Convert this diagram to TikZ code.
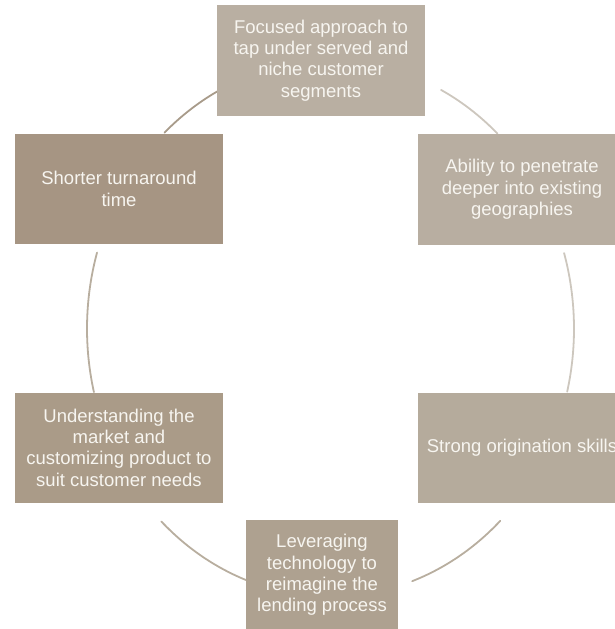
\documentclass[tikz,border=0pt]{standalone}
\usepackage{fontspec}
\setmainfont{Liberation Sans}
\definecolor{cA}{HTML}{B9AFA2}
\definecolor{cB}{HTML}{A69583}
\definecolor{cC}{HTML}{B8AEA1}
\definecolor{cD}{HTML}{AA9B88}
\definecolor{cE}{HTML}{B5AB9C}
\definecolor{cF}{HTML}{AEA190}
\definecolor{boxtext}{HTML}{F7F5F0}
\definecolor{ringdark}{HTML}{A89B8A}
\definecolor{ringmid}{HTML}{B8AE9F}
\definecolor{ringlight}{HTML}{CDC7BE}
\begin{document}
\begin{tikzpicture}[x=1pt,y=-1pt,
  box/.style={rectangle, inner sep=0pt, minimum width=208pt, minimum height=110pt,
    text=boxtext, align=center, font=\fontsize{18.5}{21.3}\selectfont},
  ring/.style={line width=1.8pt, line cap=round}]
\useasboundingbox (0,0) rectangle (614,629);
% ring arcs
\draw[ring, ringdark]  plot[domain=-133:-117, samples=30, smooth] ({330.5+243.5*cos(\x)},{328.7+268*sin(\x)});
\draw[ring, ringlight] plot[domain=-63:-46.7, samples=30, smooth] ({330.5+243.5*cos(\x)},{328.7+268*sin(\x)});
\draw[ring, ringlight] plot[domain=-16.4:13.6, samples=40, smooth] ({330.5+243.5*cos(\x)},{328.7+268*sin(\x)});
\draw[ring, ringmid]   plot[domain=166.3:196.5, samples=40, smooth] ({330.5+243.5*cos(\x)},{328.7+268*sin(\x)});
\draw[ring, ringmid]   plot[domain=110.3:134, samples=30, smooth] ({330.5+243.5*cos(\x)},{328.7+268*sin(\x)});
\draw[ring, ringmid]   plot[domain=45.8:70.4, samples=30, smooth] ({330.5+243.5*cos(\x)},{328.7+268*sin(\x)});
% boxes
\node[box, fill=cA, minimum height=111pt] (focus) at (321,60.5) {Focused approach to\\tap under served and\\niche customer\\segments};
\node[box, fill=cB] (short) at (119,189) {Shorter turnaround\\time};
\node[box, fill=cC, minimum height=111pt] (ability) at (522,189.5) {Ability to penetrate\\deeper into existing\\geographies};
\node[box, fill=cD] (under) at (119,447.5) {Understanding the\\market and\\customizing product to\\suit customer needs};
\node[box, fill=cE] (strong) at (522,447.5) {Strong origination skills};
\node[box, fill=cF, minimum width=152pt] (lever) at (322,575) {Leveraging\\technology to\\reimagine the\\lending process};
\end{tikzpicture}
\end{document}
